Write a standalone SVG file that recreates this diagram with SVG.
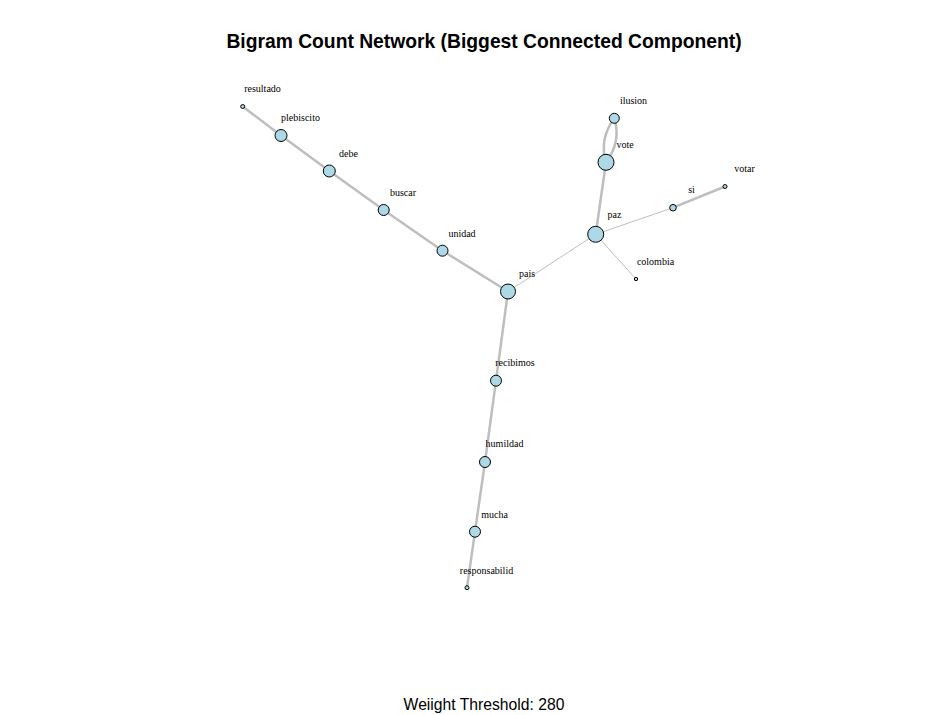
<svg xmlns="http://www.w3.org/2000/svg" width="930" height="715" viewBox="0 0 930 715">
<style>
.e{stroke:#BEBEBE;fill:none;stroke-linecap:butt}
.t{stroke-width:2.5}
.n{stroke-width:1}
.v{fill:#ADD8E6;stroke:#000;stroke-width:1}
.l{font-family:"Liberation Serif",serif;font-size:10px;fill:#000;text-anchor:middle}
.title{font-family:"Liberation Sans",Arial,sans-serif;font-size:19.3px;font-weight:bold;text-anchor:middle}
.sub{font-family:"Liberation Sans",Arial,sans-serif;font-size:15.7px;text-anchor:middle}
</style>
<rect width="930" height="715" fill="#fff"/>
<g id="edges">
<line class="e t" x1="242.7" y1="106.5" x2="281" y2="135.5"/>
<line class="e t" x1="281" y1="135.5" x2="329.3" y2="171"/>
<line class="e t" x1="329.3" y1="171" x2="383.7" y2="210"/>
<line class="e t" x1="383.7" y1="210" x2="442.5" y2="250.7"/>
<line class="e t" x1="442.5" y1="250.7" x2="508" y2="291.5"/>
<line class="e n" x1="508" y1="291.5" x2="595.7" y2="234.3"/>
<line class="e t" x1="508" y1="291.5" x2="496" y2="380.7"/>
<line class="e t" x1="496" y1="380.7" x2="485" y2="462"/>
<line class="e t" x1="485" y1="462" x2="475" y2="531.7"/>
<line class="e t" x1="475" y1="531.7" x2="467" y2="587.7"/>
<line class="e t" x1="595.7" y1="234.3" x2="606" y2="162.3"/>
<line class="e n" x1="595.7" y1="234.3" x2="636" y2="279"/>
<line class="e n" x1="595.7" y1="234.3" x2="673" y2="207.7"/>
<line class="e t" x1="673" y1="207.7" x2="725" y2="186.5"/>
<path class="e t" d="M606,162.3 Q599,139 614.3,118.3"/>
<path class="e t" d="M606,162.3 Q621.5,141.5 614.3,118.3"/>
</g>
<g id="n-resultado"><circle class="v" cx="242.7" cy="106.5" r="2"/><text class="l" x="262.5" y="92">resultado</text></g>
<g id="n-plebiscito"><circle class="v" cx="281" cy="135.5" r="6"/><text class="l" x="300.5" y="121">plebiscito</text></g>
<g id="n-debe"><circle class="v" cx="329.3" cy="171" r="6"/><text class="l" x="348.5" y="156.5">debe</text></g>
<g id="n-buscar"><circle class="v" cx="383.7" cy="210" r="5.5"/><text class="l" x="403" y="195.5">buscar</text></g>
<g id="n-unidad"><circle class="v" cx="442.5" cy="250.7" r="5.5"/><text class="l" x="462" y="236.5">unidad</text></g>
<g id="n-pais"><circle class="v" cx="508" cy="291.5" r="7.5"/><text class="l" x="527" y="277">pais</text></g>
<g id="n-paz"><circle class="v" cx="595.7" cy="234.3" r="8"/><text class="l" x="614.5" y="218">paz</text></g>
<g id="n-vote"><circle class="v" cx="606" cy="162.3" r="8"/><text class="l" x="625" y="147.5">vote</text></g>
<g id="n-ilusion"><circle class="v" cx="614.3" cy="118.3" r="5"/><text class="l" x="633.5" y="104">ilusion</text></g>
<g id="n-si"><circle class="v" cx="673" cy="207.7" r="3.3"/><text class="l" x="691.5" y="193">si</text></g>
<g id="n-votar"><circle class="v" cx="725" cy="186.5" r="2"/><text class="l" x="744.5" y="171.5">votar</text></g>
<g id="n-colombia"><circle class="v" cx="636" cy="279" r="1.7"/><text class="l" x="655.5" y="264.5">colombia</text></g>
<g id="n-recibimos"><circle class="v" cx="496" cy="380.7" r="5.5"/><text class="l" x="515" y="366">recibimos</text></g>
<g id="n-humildad"><circle class="v" cx="485" cy="462" r="5.5"/><text class="l" x="504.5" y="447">humildad</text></g>
<g id="n-mucha"><circle class="v" cx="475" cy="531.7" r="5.5"/><text class="l" x="494.5" y="518">mucha</text></g>
<g id="n-responsabilid"><circle class="v" cx="467" cy="587.7" r="2"/><text class="l" x="486.5" y="573.5">responsabilid</text></g>
<text class="title" x="484" y="48">Bigram Count Network (Biggest Connected Component)</text>
<text class="sub" x="484" y="710">Weiight Threshold: 280</text>
</svg>
